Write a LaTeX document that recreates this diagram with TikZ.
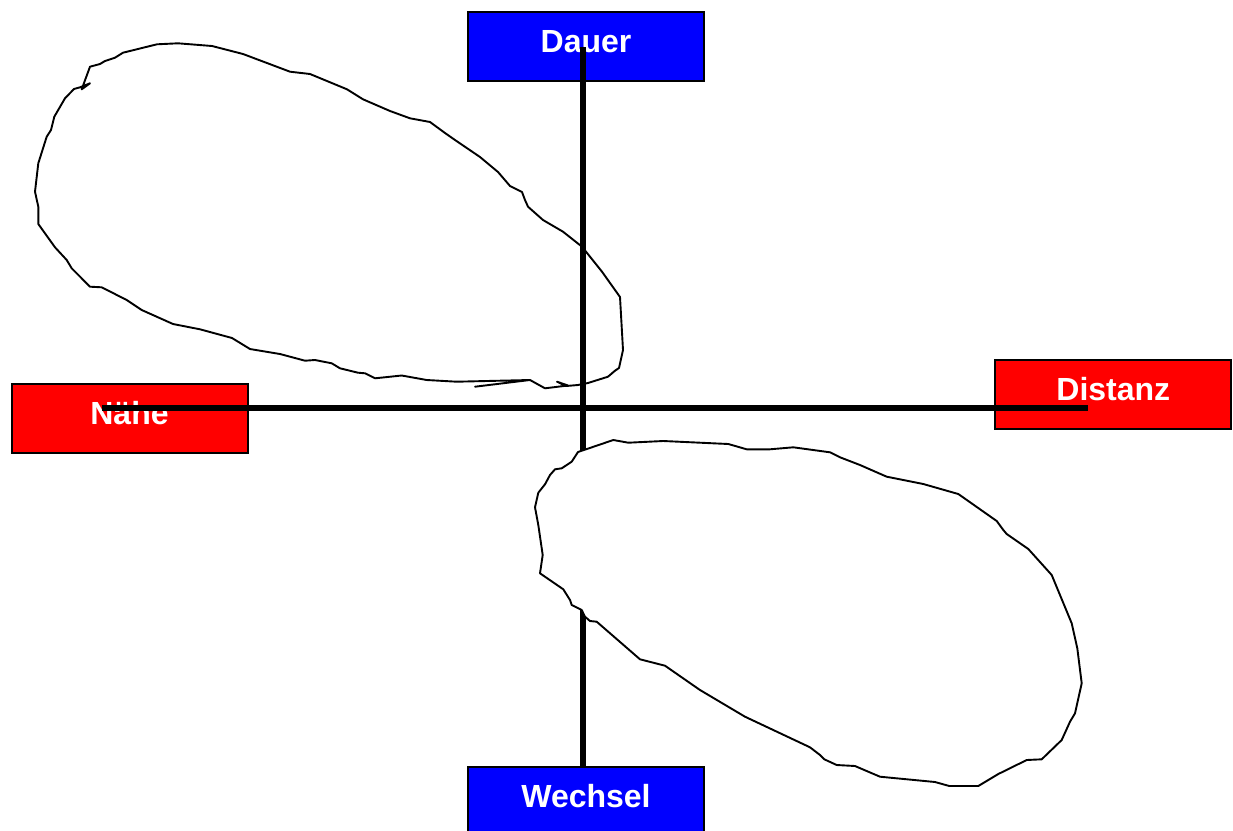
\documentclass[tikz,border=0pt]{standalone}
\usepackage{fontspec}
\setmainfont{Liberation Sans}
\begin{document}
\begin{tikzpicture}[x=1pt,y=-1pt,
  axisbox/.style={draw=black, line width=2pt, inner sep=0pt, anchor=north west,
    minimum width=236pt, text height=40pt, text depth=29pt, text=white,
    font=\fontsize{32}{37}\selectfont\bfseries},
  timebox/.style={axisbox, fill=blue},
  spacebox/.style={axisbox, fill=red},
  axisline/.style={line width=6pt, black},
  blob/.style={line width=1.9pt, black, line join=round, line cap=round}]
\useasboundingbox (0,0) rectangle (1233,830);

% the four poles
\node[timebox]  (dauer)   at (467,11)    {Dauer};
\node[spacebox] (naehe)   at (10.5,383)  {Nähe};
\node[spacebox] (distanz) at (994.3,359) {Distanz};
\node[timebox]  (wechsel) at (467,766)   {Wechsel};

% axes
\coordinate (vtop)   at (583,47);
\coordinate (hleft)  at (102,407.5);
\coordinate (hright) at (1088,407.5);
\draw[axisline] (vtop) -- (vtop |- wechsel.north);
\draw[axisline] (hleft) -- (hright);

% upper-left region (freehand outline)
\draw[blob] (475,386.7) -- (530,380) -- (456.7,381.7) -- (426.7,380) -- (401.7,375.5)
  -- (375,378.3) -- (365,373.3) -- (358,372.7) -- (340,368.3) -- (331.7,363.3)
  -- (315,360) -- (305,360.7) -- (280,354) -- (250,349) -- (232,338)
  -- (200,329.3) -- (173,324) -- (141.7,310) -- (126.7,300) -- (101.7,287.3)
  -- (90,286.7) -- (71.7,268.3) -- (66.7,260) -- (55,247.3) -- (38.3,224)
  -- (38.3,206.7) -- (35,191.7) -- (38.3,163.3) -- (46.7,136.7) -- (51,130)
  -- (54.3,116.7) -- (65,98.3) -- (74,89) -- (80,87.3) -- (90,83.3)
  -- (81.7,89.3) -- (90,66.7) -- (100,64) -- (105,61) -- (115,57.7)
  -- (123,52.7) -- (157,44.3) -- (178,43.3) -- (212,46) -- (243,54)
  -- (290,71.7) -- (310,74) -- (347,89.3) -- (363,99.3) -- (390,111)
  -- (410,118.3) -- (430,122) -- (445,133) -- (455,140) -- (480,157)
  -- (498,172) -- (510,186) -- (522,192) -- (525,200) -- (528,206.7)
  -- (543,220) -- (563,231.7) -- (582,246.7) -- (602,271.7) -- (620,297)
  -- (623,350) -- (619,368) -- (615,370.7) -- (608,376.7) -- (588,383)
  -- (578,385) -- (566,386) -- (557,381.7) -- (568,385.5) -- (545,388.3)
  -- (530,380);

% lower-right region (freehand outline, filled)
\filldraw[blob, fill=white] (578,452) -- (613.3,440) -- (628.3,442.7) -- (663.3,441)
  -- (728.3,444) -- (746.7,449.3) -- (770,449.3) -- (793.3,447.3) -- (830,452.3)
  -- (840,457.3) -- (860,465) -- (886.7,476.7) -- (923.3,484) -- (958.3,494)
  -- (996.7,521) -- (1003.3,530) -- (1006.7,534) -- (1028.3,549) -- (1051.7,575)
  -- (1071.7,623.3) -- (1077.3,648.3) -- (1081.7,683.3) -- (1075,713.3)
  -- (1070,721.7) -- (1061.7,740) -- (1041.7,759.3) -- (1026.7,760) -- (998.3,774)
  -- (978.3,786) -- (949.3,786) -- (935,782) -- (880,776.7) -- (868.3,771.7)
  -- (855,766) -- (836.7,765) -- (824.3,759.3) -- (820,755) -- (810,747.3)
  -- (745,716.7) -- (700,690) -- (665,665.7) -- (640,659.3) -- (596.7,621.7)
  -- (590,621) -- (585,616.7) -- (581.7,610) -- (571.7,605) -- (570,600)
  -- (563.3,589.3) -- (540,573.3) -- (542.7,555) -- (538.3,525) -- (535,507.3)
  -- (538.3,492.7) -- (545,484.3) -- (550,475) -- (555,469.3) -- (561.7,468.3)
  -- (571.7,461.7) -- cycle;
\end{tikzpicture}
\end{document}
